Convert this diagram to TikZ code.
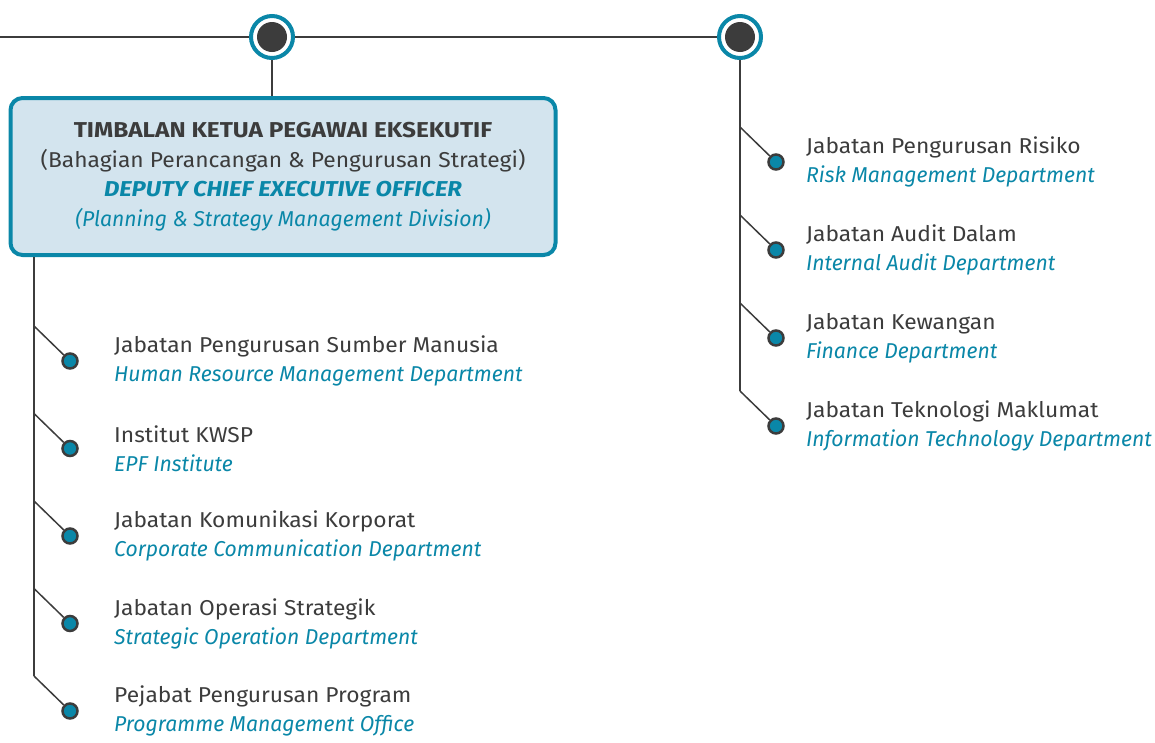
\documentclass[tikz,border=0pt]{standalone}
\usepackage{fontspec}
\setmainfont{Fira Sans}[UprightFeatures={FakeStretch=1.06},
  BoldFeatures={FakeStretch=1.135},
  ItalicFeatures={FakeStretch=0.985},
  BoldItalicFeatures={FakeStretch=1.11}]
\usepackage{tikz}
\usetikzlibrary{positioning,calc}
\definecolor{epfteal}{HTML}{0A87A8}
\definecolor{epfdark}{HTML}{3C3C3C}
\definecolor{epfbox}{HTML}{D3E4EE}
\tikzset{hub/.style={circle,
    draw=epfteal, line width=4pt,
    fill=white,
    minimum size=42pt,
    inner sep=0pt
  },
  deputy/.style={draw=epfteal, line width=4pt,
    fill=epfbox,
    rounded corners=12pt,
    minimum width=545pt, minimum height=157pt,
    align=center,
    text=epfdark,
    font=\fontsize{21.5}{29.5}\selectfont
  },
  deptdot/.style={circle,
    draw=epfdark, line width=2.5pt,
    fill=epfteal,
    minimum size=15pt,
    inner sep=0pt
  },
  dept/.style={align=left,
    inner sep=0pt,
    text=epfdark,
    font=\fontsize{21.5}{29}\selectfont
  },
  trunk/.style={draw=epfdark, line width=2pt},
  branch/.style={draw=epfdark, line width=1.5pt}
}

\begin{document}
\begin{tikzpicture}[x=1pt,y=-1pt]
    \useasboundingbox (0,0) rectangle (1155,742);
    % top bar
    \coordinate (west) at (0,37);
    \node[hub] (hubA) at (272,37) {};
    \node[hub] (hubB) at (740,37) {};
    \fill[epfdark] (hubA) circle (15pt);
    \fill[epfdark] (hubB) circle (15pt);
    \draw[trunk] (west) -- (hubA) -- (hubB);
    % deputy box
    \node[deputy] (dceo) at (283,176.5) {\textbf{TIMBALAN KETUA PEGAWAI EKSEKUTIF}\\
        (Bahagian Perancangan \& Pengurusan Strategi)\\
        \textcolor{epfteal}{\textbf{\textit{DEPUTY CHIEF EXECUTIVE OFFICER}}}\\
        \textcolor{epfteal}{\textit{(Planning \& Strategy Management Division)}}};
    \draw[trunk] (hubA) -- (hubA |- dceo.north);
    % left column
    \foreach \ms/\en [count=\k] in {Jabatan Pengurusan Sumber Manusia/Human Resource Management Department,
        Institut KWSP/EPF Institute,
        Jabatan Komunikasi Korporat/Corporate Communication Department,
        Jabatan Operasi Strategik/Strategic Operation Department,
        Pejabat Pengurusan Program/Programme Management Office}{
        \pgfmathsetmacro\yy{361+87.5*(\k-1)}
        \coordinate (bl\k) at (34,\yy-35);
        \node[deptdot] (l\k) at (70,\yy) {};
        \node[dept, anchor=west] (lt\k) at (114,\yy) {\ms\\\textcolor{epfteal}{\textit{\en}}};
        \draw[branch] (bl\k) -- (l\k);
    }
    \coordinate (ltop) at (bl1 |- dceo.south);
    \draw[trunk] (ltop) -- (bl5);
    % right column
    \foreach \ms/\en [count=\k] in {Jabatan Pengurusan Risiko/Risk Management Department,
        Jabatan Audit Dalam/Internal Audit Department,
        Jabatan Kewangan/Finance Department,
        Jabatan Teknologi Maklumat/Information Technology Department}{
        \pgfmathsetmacro\yy{162+88*(\k-1)}
        \coordinate (br\k) at (740,\yy-35);
        \node[deptdot] (r\k) at (776,\yy) {};
        \node[dept, anchor=west] (rt\k) at (806,\yy) {\ms\\\textcolor{epfteal}{\textit{\en}}};
        \draw[branch] (br\k) -- (r\k);
    }
    \draw[trunk] (hubB) -- (br4);
\end{tikzpicture}
\end{document}
